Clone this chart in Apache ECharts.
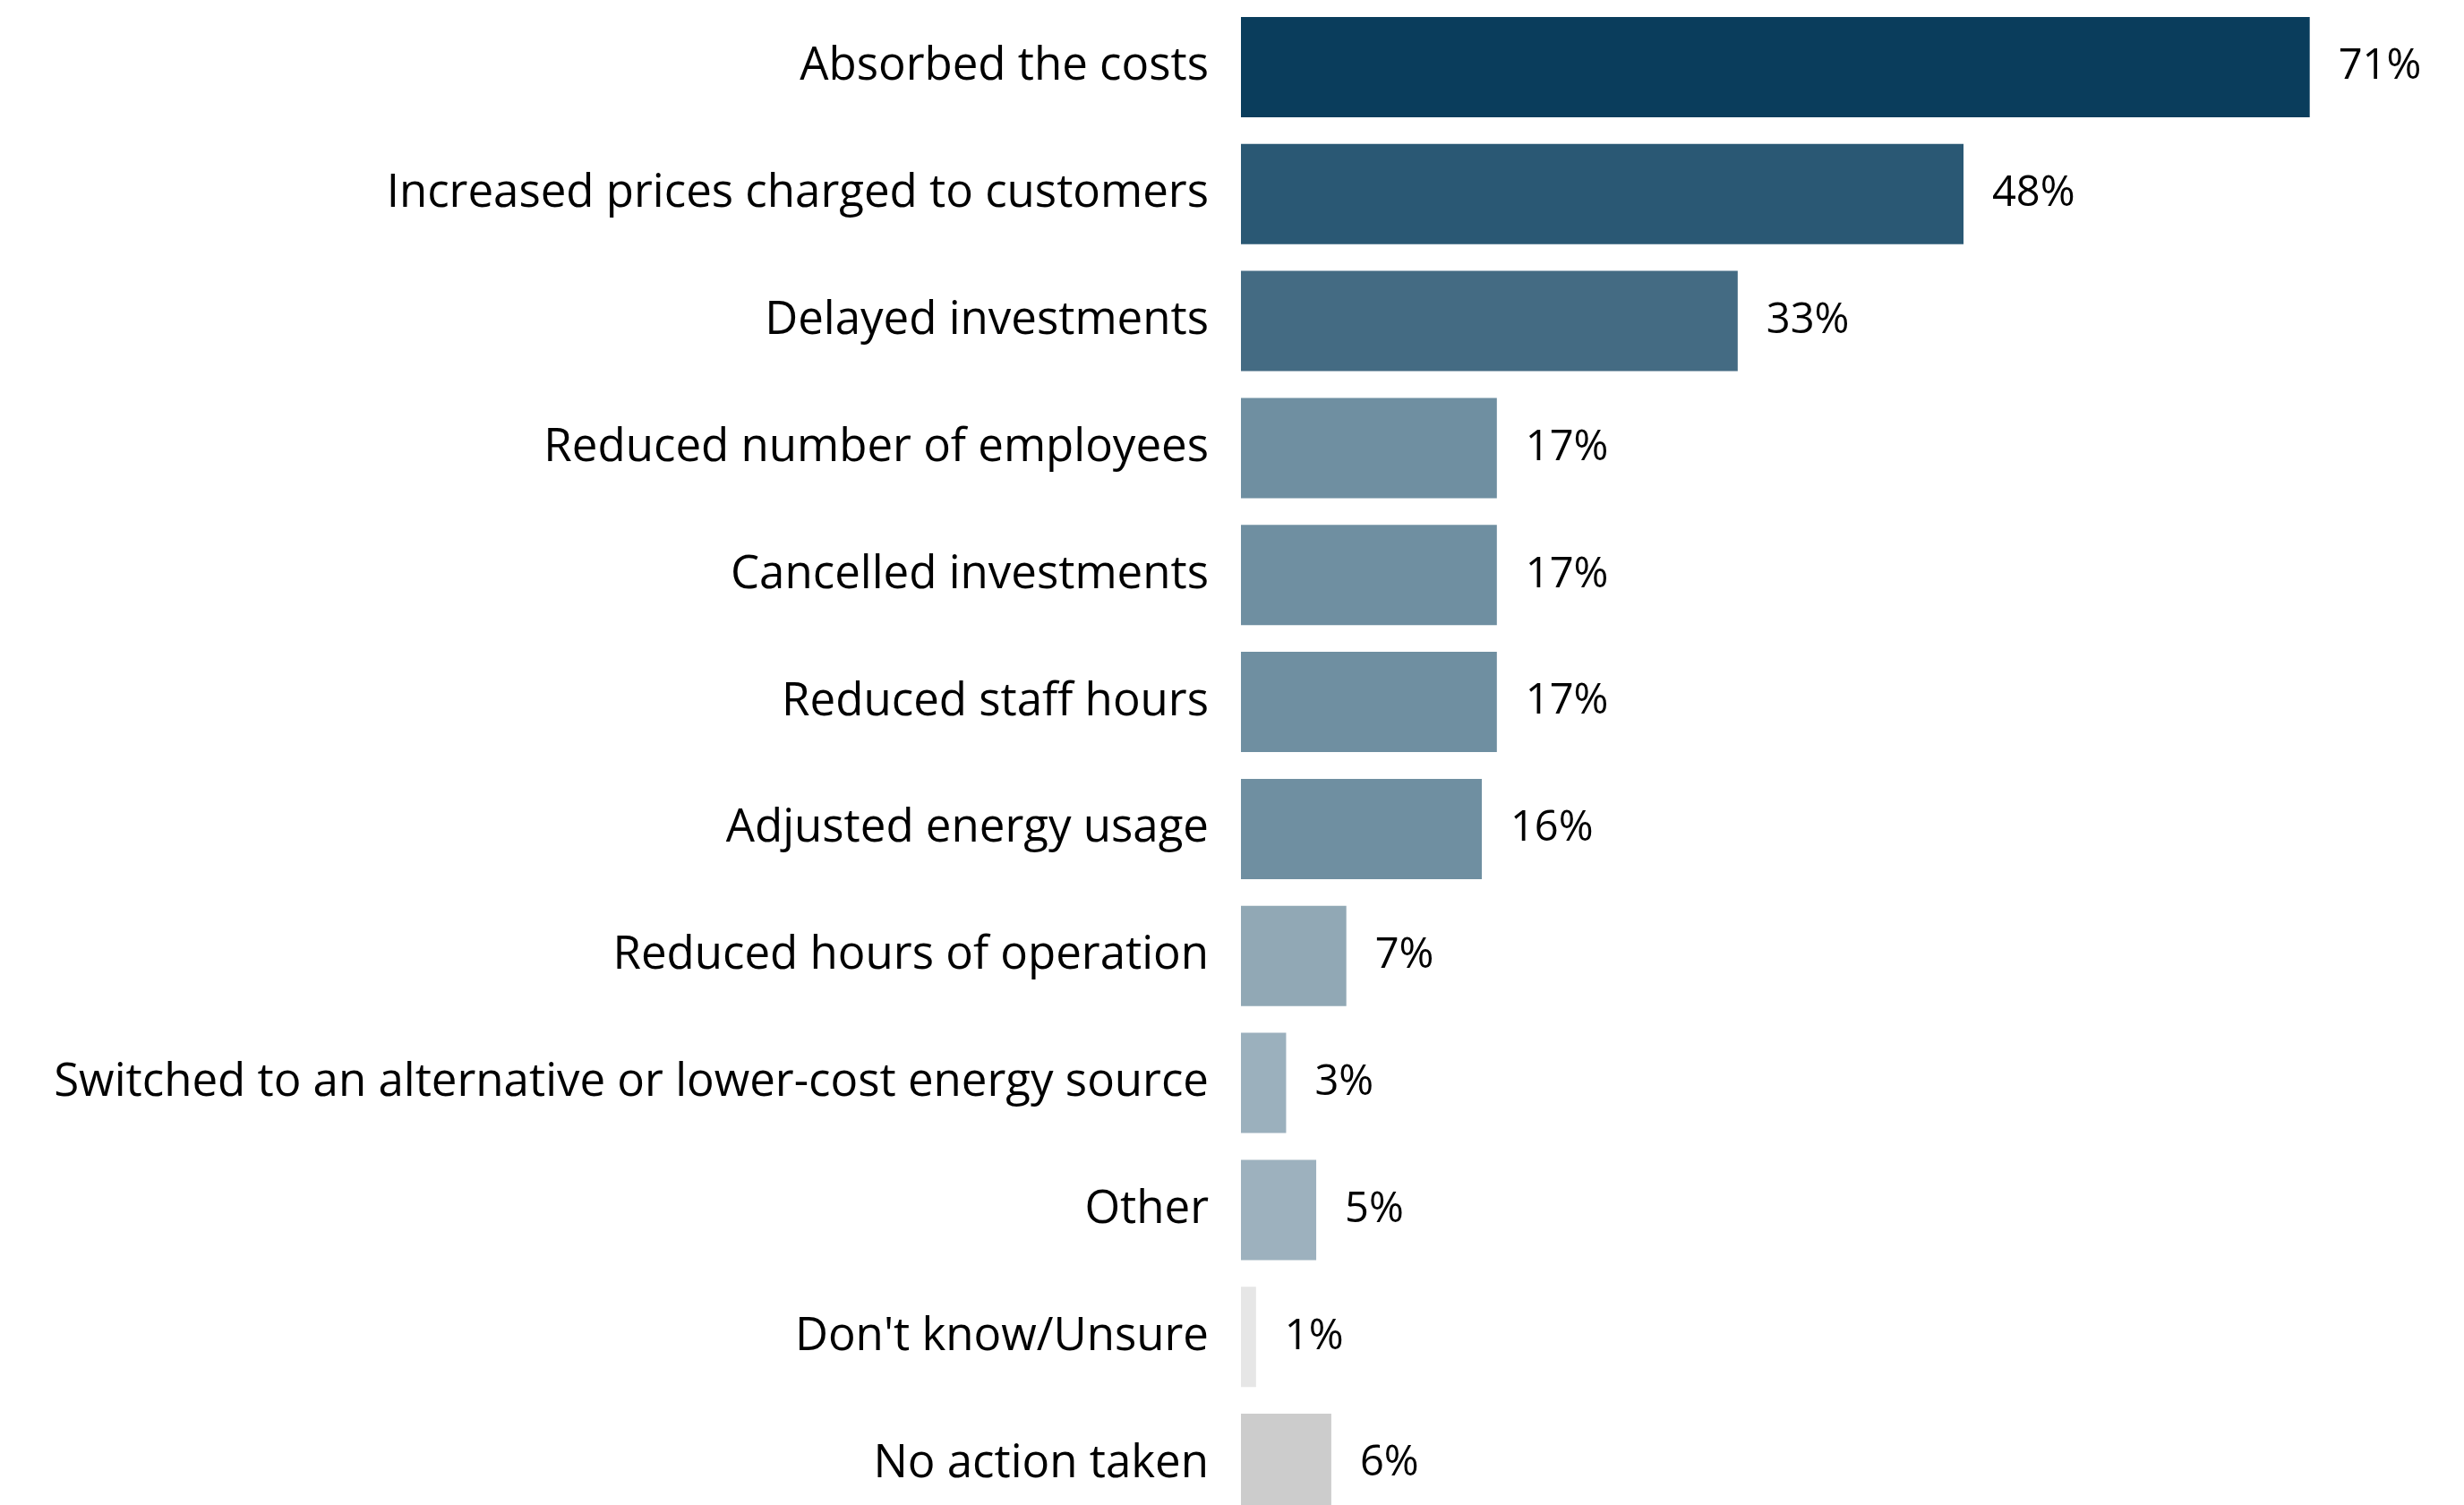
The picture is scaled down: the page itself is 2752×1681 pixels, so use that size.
<!DOCTYPE html>
<html>
<head>
<meta charset="utf-8">
<script src="https://cdn.jsdelivr.net/npm/echarts@6/dist/echarts.min.js"></script>
<style>
  html, body { margin: 0; padding: 0; background: #ffffff; }
  #chart { width: 2752px; height: 1681px; }
</style>
</head>
<body>
<div id="chart"></div>
<script>
// Actions taken in response to higher energy costs (% of respondents)
var categories = [
  'Absorbed the costs',
  'Increased prices charged to customers',
  'Delayed investments',
  'Reduced number of employees',
  'Cancelled investments',
  'Reduced staff hours',
  'Adjusted energy usage',
  'Reduced hours of operation',
  'Switched to an alternative or lower-cost energy source',
  'Other',
  "Don't know/Unsure",
  'No action taken'
];
var values = [71, 48, 33, 17, 17, 17, 16, 7, 3, 5, 1, 6];
var barColors = [
  '#0a3d5c', '#2a5874', '#446b83', '#6f8fa1', '#6f8fa1', '#6f8fa1',
  '#6f8fa1', '#91a8b5', '#9bb0bd', '#9db1be', '#e6e6e6', '#cccccc'
];

var FONT = '"Open Sans", "Noto Sans", sans-serif';

var chart = echarts.init(document.getElementById('chart'), null, { renderer: 'canvas' });

chart.setOption({
  backgroundColor: '#ffffff',
  animation: false,
  grid: {
    left: 1386,
    top: 4,
    width: 1345,
    height: 1702,
    containLabel: false,
    outerBoundsMode: 'none'
  },
  xAxis: {
    type: 'value',
    min: 0,
    max: 80,
    show: false
  },
  yAxis: {
    type: 'category',
    data: categories,
    inverse: true,
    axisLine: { show: false },
    axisTick: { show: false },
    splitLine: { show: false },
    axisLabel: {
      margin: 36,
      color: '#000000',
      fontFamily: FONT,
      fontSize: 51,
      padding: [8, 0, 0, 0]
    }
  },
  series: [{
    type: 'bar',
    data: values.map(function (v, i) {
      return { value: v, itemStyle: { color: barColors[i] } };
    }),
    barCategoryGap: '21%',
    label: {
      show: true,
      position: 'right',
      distance: 32,
      color: '#000000',
      fontFamily: FONT,
      fontSize: 47,
      padding: [8, 0, 0, 0],
      formatter: function (p) { return p.value + '%'; }
    }
  }]
});
</script>
</body>
</html>
